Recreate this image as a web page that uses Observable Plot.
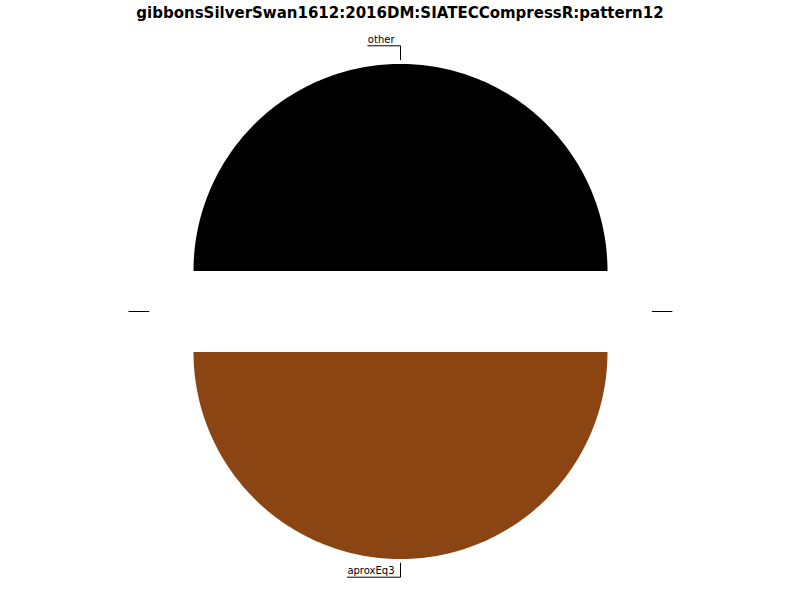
<!DOCTYPE html>
<html>
<head>
<meta charset="utf-8">
<script src="https://cdn.jsdelivr.net/npm/d3@7"></script>
<script src="https://cdn.jsdelivr.net/npm/@observablehq/plot@0.6"></script>
<style>
  body { margin: 0; background: #fff; }
  #title { box-sizing: border-box; width: 800px; height: 25px; padding-top: 4px; line-height: 18px;
           text-align: center; white-space: nowrap;
           font: bold 15px "DejaVu Sans", sans-serif; color: #000; }
  #chart svg { display: block; }
</style>
</head>
<body>
<div id="title">gibbonsSilverSwan1612:2016DM:SIATECCompressR:pattern12</div>
<div id="chart"></div>
<script>
// ---- data ----
const labels = ["other", "", "aproxEq3", ""];
const values = [1, 0, 1, 0];
const colors = ["#000000", "#1f77b4", "#8b4513", "#ff7f0e"];

// ---- layout constants ----
const W = 800, H = 575;
const K = 207;            // pixels per unit radius
const CY = 286;           // pie centre, px from svg top
const explode = 0.196;
const rA = 1.02, pad = 6 / K;
const elbowX = 20 / K, elbowY = 14 / K;

const total = d3.sum(values);
const ctx = document.createElement("canvas").getContext("2d");
ctx.font = "10px 'DejaVu Sans'";

let acc = 0;
const slices = labels.map((label, i) => {
  const a0 = acc / total * 2 * Math.PI;
  acc += values[i];
  const a1 = acc / total * 2 * Math.PI;
  const mid = (a0 + a1) / 2;
  const ox = explode * Math.cos(mid), oy = explode * Math.sin(mid);
  return {label, value: values[i], color: colors[i], a0, a1, mid, ox, oy};
});

const wedgePts = [];
for (const s of slices) {
  if (s.value <= 0) continue;
  const n = 180;
  wedgePts.push({slice: s.label, x: s.ox, y: s.oy, color: s.color});
  for (let j = 0; j <= n; j++) {
    const t = s.a0 + (s.a1 - s.a0) * j / n;
    wedgePts.push({slice: s.label, x: s.ox + Math.cos(t), y: s.oy + Math.sin(t), color: s.color});
  }
  wedgePts.push({slice: s.label, x: s.ox, y: s.oy, color: s.color});
}

const connPts = [], textPts = [];
slices.forEach((s, i) => {
  const c = Math.cos(s.mid), sn = Math.sin(s.mid);
  const A = [s.ox + rA * c, s.oy + rA * sn];
  const B = [A[0] + elbowX * c, A[1] + elbowY * sn];
  const side = c > 0.5 ? 1 : -1;
  const tw = s.label ? ctx.measureText(s.label).width / K + pad : 0;
  const C = [B[0] + side * tw, B[1]];
  connPts.push({id: i, x: A[0], y: A[1]}, {id: i, x: B[0], y: B[1]}, {id: i, x: C[0], y: C[1]});
  if (s.label) textPts.push({label: s.label, x: B[0] + side * pad, y: B[1], anchor: side > 0 ? "start" : "end"});
});

const chart = Plot.plot({
  width: W, height: H, margin: 0,
  x: {domain: [-(W / 2) / K, (W / 2) / K], axis: null},
  y: {domain: [-(H - CY) / K, CY / K], axis: null},
  style: {fontFamily: "'DejaVu Sans', sans-serif", background: "#fff"},
  marks: [
    Plot.line(wedgePts, {x: "x", y: "y", z: "slice", fill: "color", stroke: null, curve: "linear"}),
    Plot.line(connPts, {x: "x", y: "y", z: "id", stroke: "#000", strokeWidth: 1}),
    Plot.text(textPts.filter(d => d.anchor === "end"), {x: "x", y: "y", text: "label", textAnchor: "end", lineAnchor: "bottom", dy: -3, fontSize: 10, fill: "#000"}),
    Plot.text(textPts.filter(d => d.anchor === "start"), {x: "x", y: "y", text: "label", textAnchor: "start", lineAnchor: "bottom", dy: -3, fontSize: 10, fill: "#000"})
  ]
});
document.getElementById("chart").appendChild(chart);
</script>
</body>
</html>
